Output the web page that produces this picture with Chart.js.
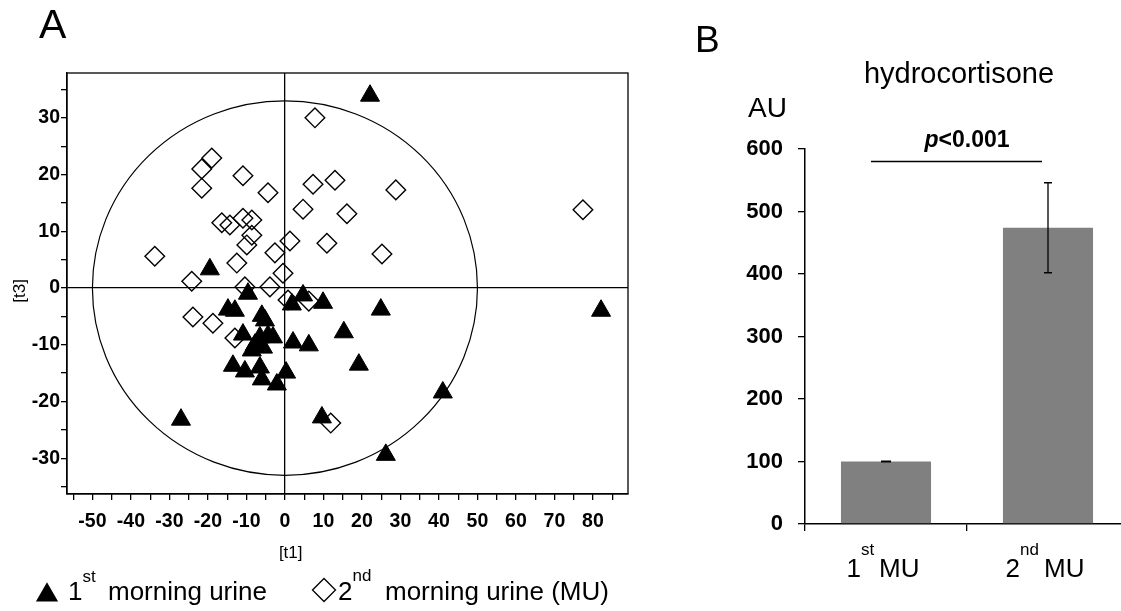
<!DOCTYPE html>
<html>
<head>
<meta charset="utf-8">
<script src="https://cdn.jsdelivr.net/npm/chart.js@4.4.1/dist/chart.umd.min.js"></script>
<style>
  html, body { margin: 0; padding: 0; background: #fff; overflow: hidden; }
  body { width: 1121px; height: 611px; position: relative; }
  #panelA { position: absolute; left: 0; top: 0; width: 660px; height: 611px; }
  #panelB { position: absolute; left: 660px; top: 0; width: 480px; height: 611px; }
</style>
</head>
<body>
<div id="panelA"><canvas id="scoreplot"></canvas></div>
<div id="panelB"><canvas id="hydrocortisone"></canvas></div>
<script>
const FONT = "'Liberation Sans', Arial, Helvetica, sans-serif";

// ---- panel A : scores [t1] / [t3]
const first_mu_t1 = [22.1, 82.1, 41.0, 26.2, 15.3, 19.2, 24.9, 9.9, 6.2, 2.1, 4.7, 1.8, 9.6, 0.3,
  -2.1, -19.5, -9.6, -14.8, -13.0, -6.0, -5.2, -10.9, -7.8, -6.5, -4.4, -3.1, -5.7, -8.6,
  -13.5, -10.4, -6.5, -6.0, -27.0];
const first_mu_t3 = [33.9, -4.0, -18.4, -29.4, -7.8, -13.5, -3.8, -2.6, -10.1, -9.6, -1.3, -2.9, -22.8, -14.9,
  -17.0, 3.3, -1.0, -3.8, -4.0, -4.9, -5.7, -8.2, -10.0, -8.7, -8.4, -8.7, -10.5, -11.0,
  -13.7, -14.7, -14.0, -16.1, -23.2];
const second_mu_t1 = [7.8, -19.0, -21.6, -21.6, -10.9, -4.4, 7.3, 13.0, 28.8, 16.1, 4.7, 77.4,
  -16.4, -14.3, -10.9, -8.6, -8.6, -9.9, 10.9, 1.3, -33.8, -12.5, -2.6, 25.2, -24.2, -0.5,
  -10.4, -3.9, -23.9, -18.7, -13.0, 11.9, 0.8, 6.2];
const second_mu_t3 = [30.0, 22.9, 21.0, 17.6, 19.8, 16.8, 18.3, 19.0, 17.3, 13.1, 13.9, 13.8,
  11.5, 11.1, 12.3, 12.0, 9.3, 7.6, 7.9, 8.3, 5.6, 4.4, 6.2, 6.0, 1.2, 2.6,
  0.2, 0.2, -5.1, -6.2, -8.8, -23.8, -2.1, -2.3];
const t1_ticks = [-55, -50, -45, -40, -35, -30, -25, -20, -15, -10, -5, 0, 5, 10, 15, 20,
  25, 30, 35, 40, 45, 50, 55, 60, 65, 70, 75, 80, 85];
const t3_ticks = [-35, -30, -25, -20, -15, -10, -5, 0, 5, 10, 15, 20, 25, 30, 35];
const ellipse_t1 = 50;
const ellipse_t3 = 33;

// ---- panel B : hydrocortisone
const bar_labels = [["1", "st"], ["2", "nd"]];
const bar_values = [100, 474];
const bar_errors = [0.5, 72];
const au_ticks = [0, 100, 200, 300, 400, 500, 600];
const p_level = 580;

function toPoints(xs, ys) {
  return xs.map((x, i) => ({ x: x, y: ys[i] }));
}

function supText(ctx, x, y, main, sup, size, supSize, rise) {
  ctx.font = size + "px " + FONT;
  ctx.fillText(main, x, y);
  x += ctx.measureText(main).width;
  ctx.font = supSize + "px " + FONT;
  ctx.fillText(sup, x, y - rise);
  return x + ctx.measureText(sup).width;
}

const scoreplotDecor = {
  id: "scoreplotDecor",
  beforeDatasetsDraw(chart) {
    const { ctx, scales: { x, y } } = chart;
    const cx = x.getPixelForValue(0), cy = y.getPixelForValue(0);
    ctx.save();
    ctx.strokeStyle = "#000";
    ctx.lineWidth = 1.2;
    ctx.beginPath();
    ctx.ellipse(cx, cy, Math.abs(x.getPixelForValue(ellipse_t1) - cx), Math.abs(y.getPixelForValue(ellipse_t3) - cy), 0, 0, 2 * Math.PI);
    ctx.stroke();
    ctx.restore();
  },
  afterDraw(chart) {
    const { ctx, chartArea: a, scales: { x, y } } = chart;
    ctx.save();
    ctx.strokeStyle = "#000";
    ctx.lineWidth = 1.3;
    ctx.strokeRect(a.left, a.top, a.right - a.left, a.bottom - a.top);

    ctx.fillStyle = "#000";
    ctx.textBaseline = "alphabetic";
    ctx.font = "41px " + FONT;
    ctx.fillText("A", 39, 38);

    // axis titles, set near the origin as in the original
    ctx.font = "17px " + FONT;
    ctx.textAlign = "center";
    ctx.textBaseline = "middle";
    ctx.fillText("[t1]", x.getPixelForValue(1.5), 553);
    ctx.save();
    ctx.translate(20, y.getPixelForValue(-0.5));
    ctx.rotate(-Math.PI / 2);
    ctx.fillText("[t3]", 0, 0);
    ctx.restore();
    ctx.textAlign = "left";
    ctx.textBaseline = "alphabetic";

    // legend
    const ds = chart.data.datasets;
    Chart.helpers.drawPoint(ctx, { pointStyle: ds[0].pointStyle, radius: 11.5, borderWidth: 1 }, 47, 595);
    ctx.fillStyle = "#000";
    supText(ctx, 68, 600, "1", "st", 26, 17, 18);
    ctx.font = "26px " + FONT;
    ctx.fillText("morning urine", 108, 600);

    ctx.fillStyle = "rgba(0,0,0,0)";
    ctx.strokeStyle = "#000";
    Chart.helpers.drawPoint(ctx, { pointStyle: ds[1].pointStyle, radius: 11.5, borderWidth: 1 }, 324, 590);
    ctx.fillStyle = "#000";
    supText(ctx, 338, 600, "2", "nd", 26, 17, 19);
    ctx.font = "26px " + FONT;
    ctx.fillText("morning urine (MU)", 385, 600);
    ctx.restore();
  }
};

const scoreplot_chart = new Chart(document.getElementById("scoreplot"), {
  type: "scatter",
  data: {
    datasets: [
      {
        label: "1st morning urine",
        data: toPoints(first_mu_t1, first_mu_t3),
        pointStyle: "triangle",
        pointRadius: 11,
        backgroundColor: "#000",
        borderColor: "#000",
        borderWidth: 1,
      },
      {
        label: "2nd morning urine (MU)",
        data: toPoints(second_mu_t1, second_mu_t3),
        pointStyle: "rectRot",
        pointRadius: 9.8,
        backgroundColor: "rgba(0,0,0,0)",
        borderColor: "#000",
        borderWidth: 1.4,
      },
    ],
  },
  options: {
    responsive: true,
    maintainAspectRatio: false,
    animation: false,
    events: [],
    layout: { padding: { left: 0, top: 73, right: 32, bottom: 41 } },
    plugins: { legend: { display: false }, tooltip: { enabled: false } },
    scales: {
      x: {
        type: "linear",
        position: "bottom",
        min: -56.6,
        max: 89.1,
        afterBuildTicks: (s) => { s.ticks = t1_ticks.map((v) => ({ value: v })); },
        afterFit: (s) => { s.height = 76; },
        ticks: {
          callback: (v) => (v % 10 === 0 ? String(v) : ""),
          font: { family: FONT, size: 19.5, weight: "bold" },
          color: "#000",
          padding: 10,
          maxRotation: 0,
          autoSkip: false,
        },
        grid: {
          color: (c) => (c.tick && c.tick.value === 0 ? "#000" : "rgba(0,0,0,0)"),
          lineWidth: 1.3,
          tickColor: "#000",
          tickLength: 6,
        },
        border: { color: "#000", width: 1.3 },
        title: { display: false, text: "[t1]" },
      },
      y: {
        type: "linear",
        position: "left",
        min: -36.3,
        max: 37.9,
        afterBuildTicks: (s) => { s.ticks = t3_ticks.map((v) => ({ value: v })); },
        afterFit: (s) => { s.width = 67; },
        ticks: {
          callback: (v) => (v % 10 === 0 ? String(v) : ""),
          font: { family: FONT, size: 19.5, weight: "bold" },
          color: "#000",
          padding: 1,
          autoSkip: false,
        },
        grid: {
          color: (c) => (c.tick && c.tick.value === 0 ? "#000" : "rgba(0,0,0,0)"),
          lineWidth: 1.3,
          tickColor: "#000",
          tickLength: 6,
        },
        border: { color: "#000", width: 1.3 },
        title: { display: false, text: "[t3]" },
      },
    },
  },
  plugins: [scoreplotDecor],
});

const barDecor = {
  id: "barDecor",
  afterDatasetsDraw(chart) {
    const { ctx, scales: { y } } = chart;
    const meta = chart.getDatasetMeta(0);
    ctx.save();
    ctx.strokeStyle = "#000";
    ctx.lineWidth = 1.3;
    meta.data.forEach((bar, i) => {
      const hi = y.getPixelForValue(bar_values[i] + bar_errors[i]);
      const lo = y.getPixelForValue(bar_values[i] - bar_errors[i]);
      const cap = i === 0 ? 5 : 4;
      ctx.beginPath();
      ctx.moveTo(bar.x, hi); ctx.lineTo(bar.x, lo);
      ctx.moveTo(bar.x - cap, hi); ctx.lineTo(bar.x + cap, hi);
      ctx.moveTo(bar.x - cap, lo); ctx.lineTo(bar.x + cap, lo);
      ctx.stroke();
    });
    ctx.restore();
  },
  afterDraw(chart) {
    const { ctx, scales: { x, y } } = chart;
    const meta = chart.getDatasetMeta(0);
    ctx.save();
    ctx.fillStyle = "#000";
    ctx.textBaseline = "alphabetic";
    ctx.textAlign = "left";
    ctx.font = "37px " + FONT;
    ctx.fillText("B", 35, 52);

    ctx.textAlign = "center";
    ctx.font = "29px " + FONT;
    ctx.fillText("hydrocortisone", 299, 83);

    ctx.textAlign = "left";
    ctx.font = "28px " + FONT;
    ctx.fillText("AU", 88, 117);

    // significance
    const x0 = meta.data[0].x - 15, x1 = meta.data[1].x - 6;
    const ly = y.getPixelForValue(p_level);
    ctx.strokeStyle = "#000";
    ctx.lineWidth = 1.5;
    ctx.beginPath();
    ctx.moveTo(x0, ly); ctx.lineTo(x1, ly);
    ctx.stroke();
    ctx.font = "italic bold 23px " + FONT;
    const wp = ctx.measureText("p").width;
    ctx.font = "bold 23px " + FONT;
    const wr = ctx.measureText("<0.001").width;
    const cx = (x.left + x.right) / 2;
    let px = cx - (wp + wr) / 2;
    ctx.font = "italic bold 23px " + FONT;
    ctx.fillText("p", px, 147);
    ctx.font = "bold 23px " + FONT;
    ctx.fillText("<0.001", px + wp, 147);

    // category labels with superscripts
    bar_labels.forEach((lab, i) => {
      const cxi = x.getPixelForValue(i);
      ctx.font = "26px " + FONT;
      const w1 = ctx.measureText(lab[0]).width;
      const w3 = ctx.measureText("MU").width;
      ctx.font = "17px " + FONT;
      const w2 = ctx.measureText(lab[1]).width;
      const gap = 5;
      let sx = cxi - (w1 + w2 + gap + w3) / 2 - 3;
      const end = supText(ctx, sx, 577, lab[0], lab[1], 26, 17, 22);
      ctx.font = "26px " + FONT;
      ctx.fillText("MU", end + gap, 577);
    });
    ctx.restore();
  }
};

const hydrocortisone_chart = new Chart(document.getElementById("hydrocortisone"), {
  type: "bar",
  data: {
    labels: ["1st MU", "2nd MU"],
    datasets: [
      {
        label: "hydrocortisone",
        data: bar_values,
        backgroundColor: "#808080",
        barPercentage: 0.556,
        categoryPercentage: 1,
      },
    ],
  },
  options: {
    responsive: true,
    maintainAspectRatio: false,
    animation: false,
    events: [],
    layout: { padding: { left: 0, top: 149, right: 11, bottom: 27 } },
    plugins: { legend: { display: false }, tooltip: { enabled: false } },
    scales: {
      x: {
        offset: true,
        afterFit: (s) => { s.height = 60; },
        ticks: { display: false },
        grid: { offset: true, drawOnChartArea: false, color: "#000", tickColor: "#000", tickLength: 7, lineWidth: 1.3 },
        border: { color: "#000", width: 1.5 },
      },
      y: {
        min: 0,
        max: 600,
        afterBuildTicks: (s) => { s.ticks = au_ticks.map((v) => ({ value: v })); },
        afterFit: (s) => { s.width = 145; },
        ticks: { font: { family: FONT, size: 22, weight: "bold" }, color: "#000", padding: 15 },
        grid: { drawOnChartArea: false, color: "#000", tickColor: "#000", tickLength: 7, lineWidth: 1.3 },
        border: { color: "#000", width: 1.5 },
      },
    },
  },
  plugins: [barDecor],
});
</script>
</body>
</html>
